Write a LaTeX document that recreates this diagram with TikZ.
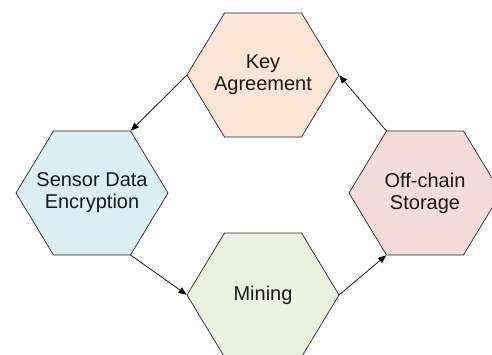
\documentclass[tikz,border=0pt]{standalone}
\usepackage{fontspec}
\setmainfont{Liberation Sans}
\usetikzlibrary{arrows.meta}

\definecolor{peachfill}{RGB}{251,229,214}
\definecolor{bluefill}{RGB}{218,238,243}
\definecolor{rosefill}{RGB}{242,220,219}
\definecolor{greenfill}{RGB}{235,241,222}
\definecolor{edgegrey}{RGB}{40,40,40}

\tikzset{
  hexline/.style={draw=edgegrey, line width=0.7pt, line join=miter},
  lbl/.style={align=center, text=black!90, font=\fontsize{20}{22}\selectfont, inner sep=0pt},
  flow/.style={draw=black, line width=0.7pt, -{Triangle[length=8pt,width=6.5pt]}, shorten >=0.5pt}
}

% #1 name, #2 centre, #3 fill colour, #4 label
\newcommand\hexblock[4]{%
  \draw[hexline, fill=#3, shift={#2}]
    (-76,0) coordinate (#1-w) -- (-38.5,62) coordinate (#1-nw) --
    (38.5,62) coordinate (#1-ne) -- (76,0) coordinate (#1-e) --
    (38.5,-62) coordinate (#1-se) -- (-38.5,-62) coordinate (#1-sw) -- cycle;
  \node[lbl] (#1) at #2 {#4};
}

\begin{document}
\begin{tikzpicture}[x=1pt, y=1pt]
  \clip (0,0) rectangle (492,354);
  \fill[white] (0,0) rectangle (492,354);

  \hexblock{key}{(263,279)}{peachfill}{Key\\Agreement}
  \hexblock{sensor}{(92,161)}{bluefill}{Sensor Data\\Encryption}
  \hexblock{store}{(425,161)}{rosefill}{Off-chain\\Storage}
  \hexblock{mine}{(263,59)}{greenfill}{Mining}

  \draw[flow] (key-w) -- (sensor-ne);
  \draw[flow] (sensor-se) -- (mine-w);
  \draw[flow] (mine-e) -- (store-sw);
  \draw[flow] (store-nw) -- (key-e);
\end{tikzpicture}
\end{document}
